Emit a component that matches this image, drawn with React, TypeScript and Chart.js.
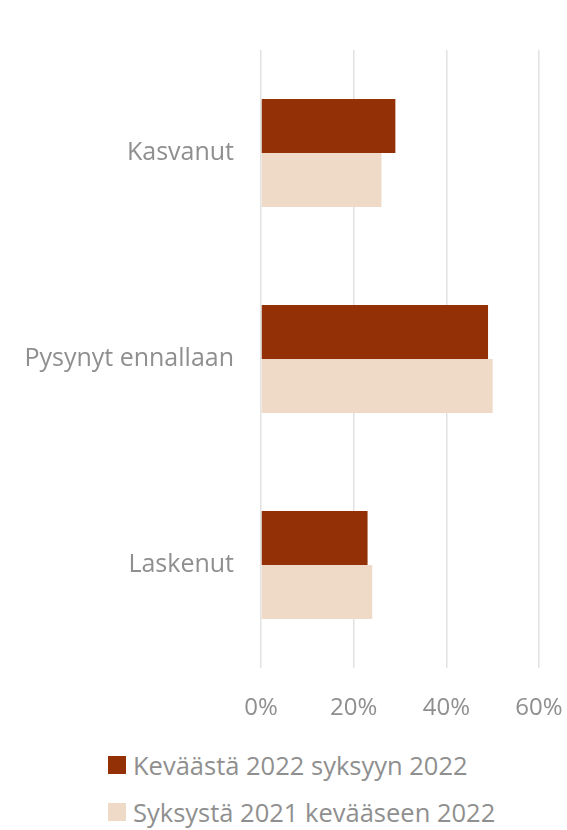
import React, { useEffect, useRef } from "react";
import { Chart, registerables } from "chart.js";

Chart.register(...registerables);

const categories = ["Kasvanut", "Pysynyt ennallaan", "Laskenut"];
const seriesNames = ["Keväästä 2022 syksyyn 2022", "Syksystä 2021 kevääseen 2022"];
const spring2022ToAutumn2022 = [29, 49, 23];
const autumn2021ToSpring2022 = [26, 50, 24];
const xTicks = [0, 20, 40, 60];

const DARK = "#943006";
const LIGHT = "#eedac6";
const TEXT = "#8f8f8f";
const FONT = "'Open Sans', 'Noto Sans', sans-serif";

export default function App() {
  const ref = useRef<HTMLCanvasElement | null>(null);

  useEffect(() => {
    if (!ref.current) return;
    const chart = new Chart(ref.current, {
      type: "bar",
      data: {
        labels: categories,
        datasets: [
          {
            label: seriesNames[0],
            data: spring2022ToAutumn2022,
            backgroundColor: DARK,
            categoryPercentage: 0.525,
            barPercentage: 1,
          },
          {
            label: seriesNames[1],
            data: autumn2021ToSpring2022,
            backgroundColor: LIGHT,
            categoryPercentage: 0.525,
            barPercentage: 1,
          },
        ],
      },
      options: {
        indexAxis: "y",
        animation: false,
        responsive: false,
        maintainAspectRatio: false,
        layout: { padding: { top: 50, right: 28, left: 0, bottom: 0 } },
        plugins: { legend: { display: false }, tooltip: { enabled: false } },
        scales: {
          x: {
            min: xTicks[0],
            max: xTicks[xTicks.length - 1],
            afterBuildTicks: (scale: any) => {
              scale.ticks = xTicks.map((v) => ({ value: v }));
            },
            afterFit: (scale: any) => {
              scale.height = 72;
              scale.paddingLeft = 0;
              scale.paddingRight = 0;
            },
            grid: { color: "#e2e2e2", lineWidth: 1.5, drawTicks: false },
            border: { display: false },
            ticks: {
              color: TEXT,
              padding: 26,
              font: { family: FONT, size: 24 },
              callback: (v: any) => v + "%",
            },
          },
          y: {
            grid: { display: false, drawTicks: false },
            border: { display: false },
            afterFit: (scale: any) => {
              scale.width = 261;
            },
            ticks: {
              color: TEXT,
              padding: 27,
              font: { family: FONT, size: 25 },
            },
          },
        },
      },
    });
    return () => chart.destroy();
  }, []);

  const legendItem = (color: string, text: string, top: number) => (
    <div
      style={{
        position: "absolute",
        left: 108,
        top,
        display: "flex",
        alignItems: "center",
        height: 24,
      }}
    >
      <div style={{ width: 18, height: 18, background: color, marginRight: 7 }} />
      <span style={{ fontFamily: FONT, fontSize: 25.5, color: TEXT, whiteSpace: "nowrap", lineHeight: "24px" }}>{text}</span>
    </div>
  );

  return (
    <div style={{ position: "fixed", left: 0, top: 0, width: 567, height: 830, background: "#fff" }}>
      <canvas ref={ref} width={567} height={740} style={{ position: "absolute", left: 0, top: 0 }} />
      {legendItem(DARK, seriesNames[0], 753)}
      {legendItem(LIGHT, seriesNames[1], 800)}
    </div>
  );
}
